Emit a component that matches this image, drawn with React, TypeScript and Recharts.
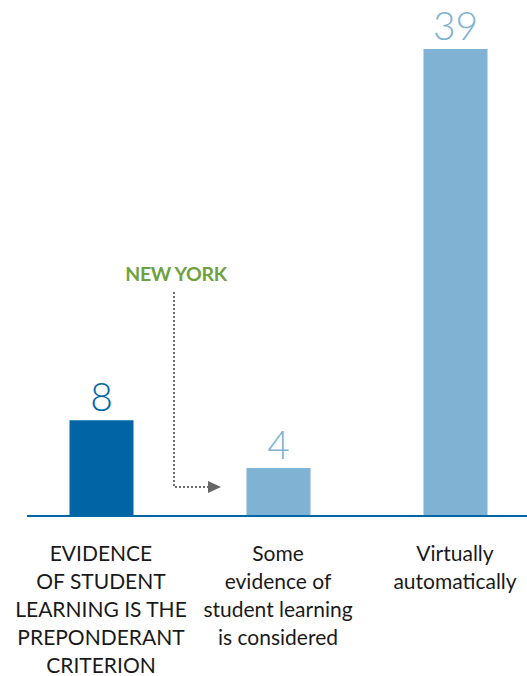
import { BarChart, Bar, XAxis, YAxis, Cell, LabelList, Customized } from "recharts";

const categories = [
  "EVIDENCE\nOF STUDENT\nLEARNING IS THE\nPREPONDERANT\nCRITERION",
  "Some\nevidence of\nstudent learning\nis considered",
  "Virtually\nautomatically",
];
const values = [8, 4, 39];

const BAR_COLORS = ["#0064a5", "#80b2d3", "#80b2d3"];
const LABEL_COLORS = ["#0066a6", "#80b3d4", "#80b3d4"];

const data = categories.map((name, i) => ({ name, value: values[i] }));

const FONT = "Lato, 'Noto Sans', sans-serif";

function CategoryTick(props: any) {
  const { x, y, payload } = props;
  const lines = String(payload.value).split("\n");
  return (
    <text x={x} y={y} textAnchor="middle" fontFamily={FONT} fontSize={21} fill="#1a1a1a">
      {lines.map((line, i) => (
        <tspan key={i} x={x} y={y + 37 + i * 28}>
          {line}
        </tspan>
      ))}
    </text>
  );
}

function ValueLabel(props: any) {
  const { x, y, width, value, index } = props;
  return (
    <text
      x={x + width / 2}
      y={y - 9}
      textAnchor="middle"
      fontFamily={FONT}
      fontWeight={300}
      fontSize={39}
      fill={LABEL_COLORS[index] ?? LABEL_COLORS[1]}
    >
      {value}
    </text>
  );
}

// NEW YORK callout pointing at the second bar
function Callout() {
  return (
    <g>
      <text
        x={176}
        y={281}
        textAnchor="middle"
        fontFamily={FONT}
        fontWeight="bold"
        fontSize={19.5}
        letterSpacing={-0.3}
        fill="#6fa23e"
      >
        NEW YORK
      </text>
      <path
        d="M174 292 V487 H208"
        fill="none"
        stroke="#6d6e71"
        strokeWidth={2}
        strokeDasharray="2 2"
      />
      <polygon points="208,481 221,487 208,493" fill="#666666" />
    </g>
  );
}

export default function App() {
  return (
    <div style={{ position: "absolute", left: 0, top: 0 }}>
      <BarChart
        width={527}
        height={676}
        data={data}
        margin={{ top: 49, right: 0, left: 27, bottom: 0 }}
      >
        <YAxis hide domain={[0, 39]} />
        <XAxis
          dataKey="name"
          height={160}
          interval={0}
          tickLine={false}
          axisLine={{ stroke: "#0066a6", strokeWidth: 2 }}
          padding={{ left: -14.5, right: -16.5 }}
          tick={<CategoryTick />}
        />
        <Bar dataKey="value" barSize={64} isAnimationActive={false}>
          {data.map((_, i) => (
            <Cell key={i} fill={BAR_COLORS[i]} />
          ))}
          <LabelList dataKey="value" content={<ValueLabel />} />
        </Bar>
        <Customized component={Callout} />
      </BarChart>
    </div>
  );
}
